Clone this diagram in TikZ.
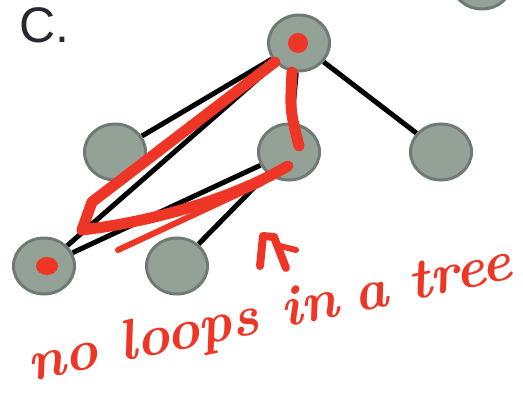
\documentclass[tikz,border=0pt]{standalone}
\usepackage{fontspec}
\usepackage{xcolor}
\usepackage{tikz}
\usetikzlibrary{shapes.geometric,backgrounds}
\newfontfamily\panelfont{Liberation Sans}
\definecolor{vertexfill}{RGB}{148,161,151}
\definecolor{vertexrim}{RGB}{110,122,115}
\definecolor{inkred}{RGB}{237,54,38}
\definecolor{panelink}{RGB}{40,40,50}
\tikzset{
  vertex/.style={ellipse, draw=vertexrim, fill=vertexfill, line width=3pt,
                 minimum width=61pt, minimum height=56pt, inner sep=0pt},
  treeedge/.style={draw=black, line width=5pt},
  scribble/.style={draw=inkred, line width=11pt, line cap=round, line join=round},
  hand/.style={text=inkred, font=\fontsize{57}{60}\selectfont\itshape\bfseries,
               inner sep=0pt},
}

\begin{document}
\begin{tikzpicture}[x=1pt, y=-1pt]
  \clip (0,0) rectangle (523,393);
  \node[anchor=base west, text=panelink, inner sep=0pt,
        font=\panelfont\fontsize{50}{54}\selectfont] (panel) at (19,43) {C.};
  % the tree
  \node[vertex] (root) at (299,43) {};
  \node[vertex] (left) at (115,152) {};
  \node[vertex] (mid) at (289,152) {};
  \node[vertex] (right) at (441,152) {};
  \node[vertex] (leafa) at (44,266) {};
  \node[vertex] (leafb) at (177,266) {};
  \node[vertex] (other) at (482,-19) {};
  \begin{scope}[on background layer]
    \draw[treeedge] (root) -- (left);
    \draw[treeedge] (root) -- (mid);
    \draw[treeedge] (root) -- (right);
    \draw[treeedge] (root) -- (leafa);
    \draw[treeedge] (mid) -- (leafa);
    \draw[treeedge] (mid) -- (leafb);
  \end{scope}
  % red ink on top
  \fill[inkred] (root.center) ++(-1,0) circle (10);
  \fill[inkred] (leafa.center) ++(3,0) ellipse (11 and 9);
  \draw[scribble] (275,62) -- (92,202) -- (82,230)
    .. controls (150,222) and (230,200) .. (288,166);
  \draw[scribble, line width=6pt] (262,183) -- (118,250);
  \draw[scribble] (292,72) .. controls (290,110) .. (299,146);
  \draw[scribble, line width=8pt] (260,266) -- (263,236) -- (274,237) -- (286,268);
  \draw[scribble, line width=6pt] (280,246) -- (296,250);
  \node[hand, rotate=12] (motto) at (270,316) {no\hspace{0.4em}loops\hspace{0.4em}in\hspace{0.3em}a\hspace{0.4em}tree};
\end{tikzpicture}
\end{document}
